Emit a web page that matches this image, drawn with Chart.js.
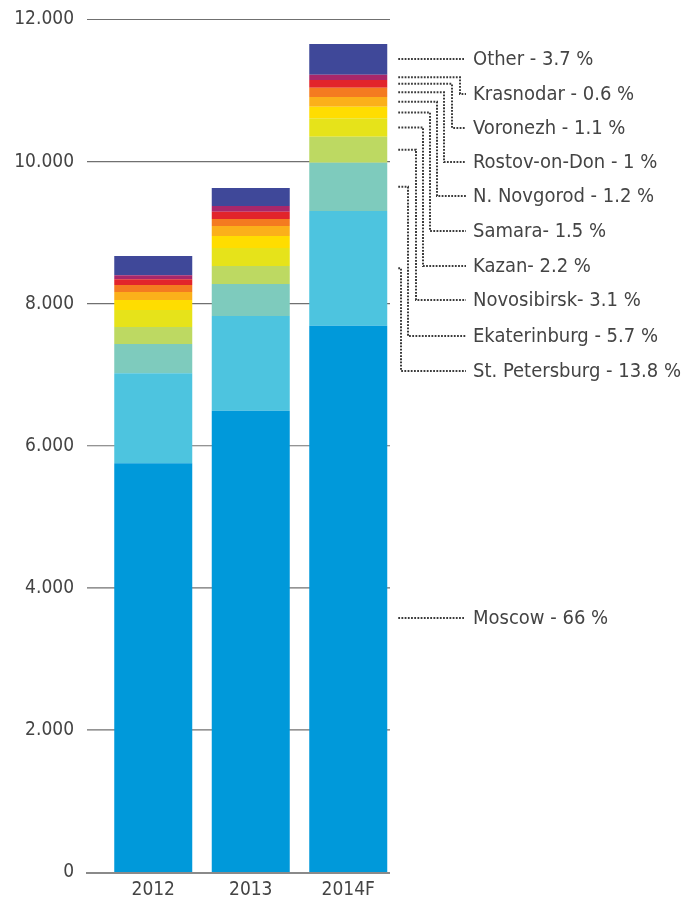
<!DOCTYPE html>
<html>
<head>
<meta charset="utf-8">
<script src="https://cdn.jsdelivr.net/npm/chart.js@4/dist/chart.umd.min.js"></script>
<style>
  html, body { margin: 0; padding: 0; background: #fff; }
  #c { display: block; }
</style>
</head>
<body>
<canvas id="c" width="698" height="908"></canvas>
<script>
const years = ['2012', '2013', '2014F'];

// values (thousands of units)
const moscow       = [5753, 6494, 7690];
const stPetersburg = [1267, 1333, 1615];
const ekaterinburg = [413, 450, 680];
const novosibirsk  = [239, 253, 366];
const kazan        = [239, 253, 259];
const samara       = [141, 169, 163];
const nNovgorod    = [113, 141, 137];
const rostov       = [99, 99, 131];
const voronezh     = [80, 103, 108];
const krasnodar    = [56, 80, 75];
const other        = [272, 253, 432];

const yTicks = [0, 2000, 4000, 6000, 8000, 10000, 12000];

// legend text, top to bottom
const legendLabels = [
  'Other - 3.7 %', 'Krasnodar - 0.6 %', 'Voronezh - 1.1 %', 'Rostov-on-Don - 1 %',
  'N. Novgorod - 1.2 %', 'Samara- 1.5 %', 'Kazan- 2.2 %', 'Novosibirsk- 3.1 %',
  'Ekaterinburg - 5.7 %', 'St. Petersburg - 13.8 %', 'Moscow - 66 %'
];

// stacked bottom to top
const series = [
  { data: moscow,       color: '#0099da' },
  { data: stPetersburg, color: '#4dc4df' },
  { data: ekaterinburg, color: '#7ecbbd' },
  { data: novosibirsk,  color: '#bdd962' },
  { data: kazan,        color: '#e6e31a' },
  { data: samara,       color: '#ffdd00' },
  { data: nNovgorod,    color: '#fbb01a' },
  { data: rostov,       color: '#f47b20' },
  { data: voronezh,     color: '#e2242b' },
  { data: krasnodar,    color: '#a8276b' },
  { data: other,        color: '#3f4899' },
];

const FONT = "'DejaVu Sans Condensed', 'DejaVu Sans', sans-serif";
const TEXT = '#444';

const fmt = (v) => v === 0 ? '0' : `${v / 1000}.000`;

const frame = {
  id: 'frame',
  beforeDatasetsDraw(chart) {
    const { ctx } = chart;
    const y = chart.scales.y;
    ctx.save();
    ctx.strokeStyle = '#707070';
    ctx.lineWidth = 1.2;
    yTicks.forEach((v) => {
      if (v === 0) return;
      const py = y.getPixelForValue(v);
      ctx.beginPath();
      ctx.moveTo(87, py);
      ctx.lineTo(390, py);
      ctx.stroke();
    });
    ctx.restore();
  },
  afterDatasetsDraw(chart) {
    const { ctx } = chart;
    const y = chart.scales.y;
    ctx.save();
    // base line
    ctx.strokeStyle = '#8a8a8a';
    ctx.lineWidth = 2;
    const by = y.getPixelForValue(0) + 1;
    ctx.beginPath();
    ctx.moveTo(86, by);
    ctx.lineTo(390, by);
    ctx.stroke();

    // dotted leaders from the 2014F bar to the labels
    const labelY = [59, 94, 128, 162, 196, 231, 266, 300, 336, 371, 618];
    const turnX = [null, 460, 452, 444, 437, 430, 423, 416, 408, 401, null];
    const last = years.length - 1;
    ctx.strokeStyle = '#3a3a3a';
    ctx.lineWidth = 2;
    ctx.setLineDash([1.8, 1.4]);
    legendLabels.forEach((label, i) => {
      const dsIndex = series.length - 1 - i;
      const el = chart.getDatasetMeta(dsIndex).data[last];
      const startX = el.x + el.width / 2 + 11;
      const ly = labelY[i];
      ctx.beginPath();
      if (turnX[i] === null) {
        ctx.moveTo(startX, ly);
        ctx.lineTo(464, ly);
      } else {
        const sy = (el.y + el.base) / 2;
        ctx.moveTo(startX, sy);
        ctx.lineTo(turnX[i], sy);
        ctx.lineTo(turnX[i], ly);
        ctx.lineTo(466, ly);
      }
      ctx.stroke();
    });
    ctx.setLineDash([]);
    ctx.fillStyle = TEXT;
    ctx.font = `20px ${FONT}`;
    ctx.textAlign = 'left';
    ctx.textBaseline = 'middle';
    legendLabels.forEach((label, i) => ctx.fillText(label, 473, labelY[i] + 0.5));
    ctx.restore();
  }
};

new Chart(document.getElementById('c'), {
  type: 'bar',
  data: {
    labels: years,
    datasets: series.map((s) => ({
      data: s.data,
      backgroundColor: s.color,
      borderWidth: 0,
      barPercentage: 0.8,
      categoryPercentage: 1,
    })),
  },
  options: {
    responsive: false,
    animation: false,
    layout: { padding: { top: 19.5, right: 301, left: 0, bottom: 0 } },
    plugins: { legend: { display: false }, tooltip: { enabled: false } },
    scales: {
      x: {
        stacked: true,
        grid: { display: false, drawTicks: false },
        border: { display: false },
        ticks: { color: TEXT, font: { family: FONT, size: 19 }, padding: 7 },
        afterFit: (s) => { s.height = 36; s.paddingLeft = 0; s.paddingRight = 0; },
      },
      y: {
        stacked: true,
        min: 0,
        max: 12000,
        grid: { display: false, drawTicks: false },
        border: { display: false },
        afterBuildTicks: (s) => { s.ticks = yTicks.map((v) => ({ value: v })); },
        ticks: { color: TEXT, font: { family: FONT, size: 19 }, padding: 30.5, callback: fmt },
        afterFit: (s) => { s.width = 104.5; s.paddingTop = 0; s.paddingBottom = 0; },
      },
    },
  },
  plugins: [frame],
});
</script>
</body>
</html>
